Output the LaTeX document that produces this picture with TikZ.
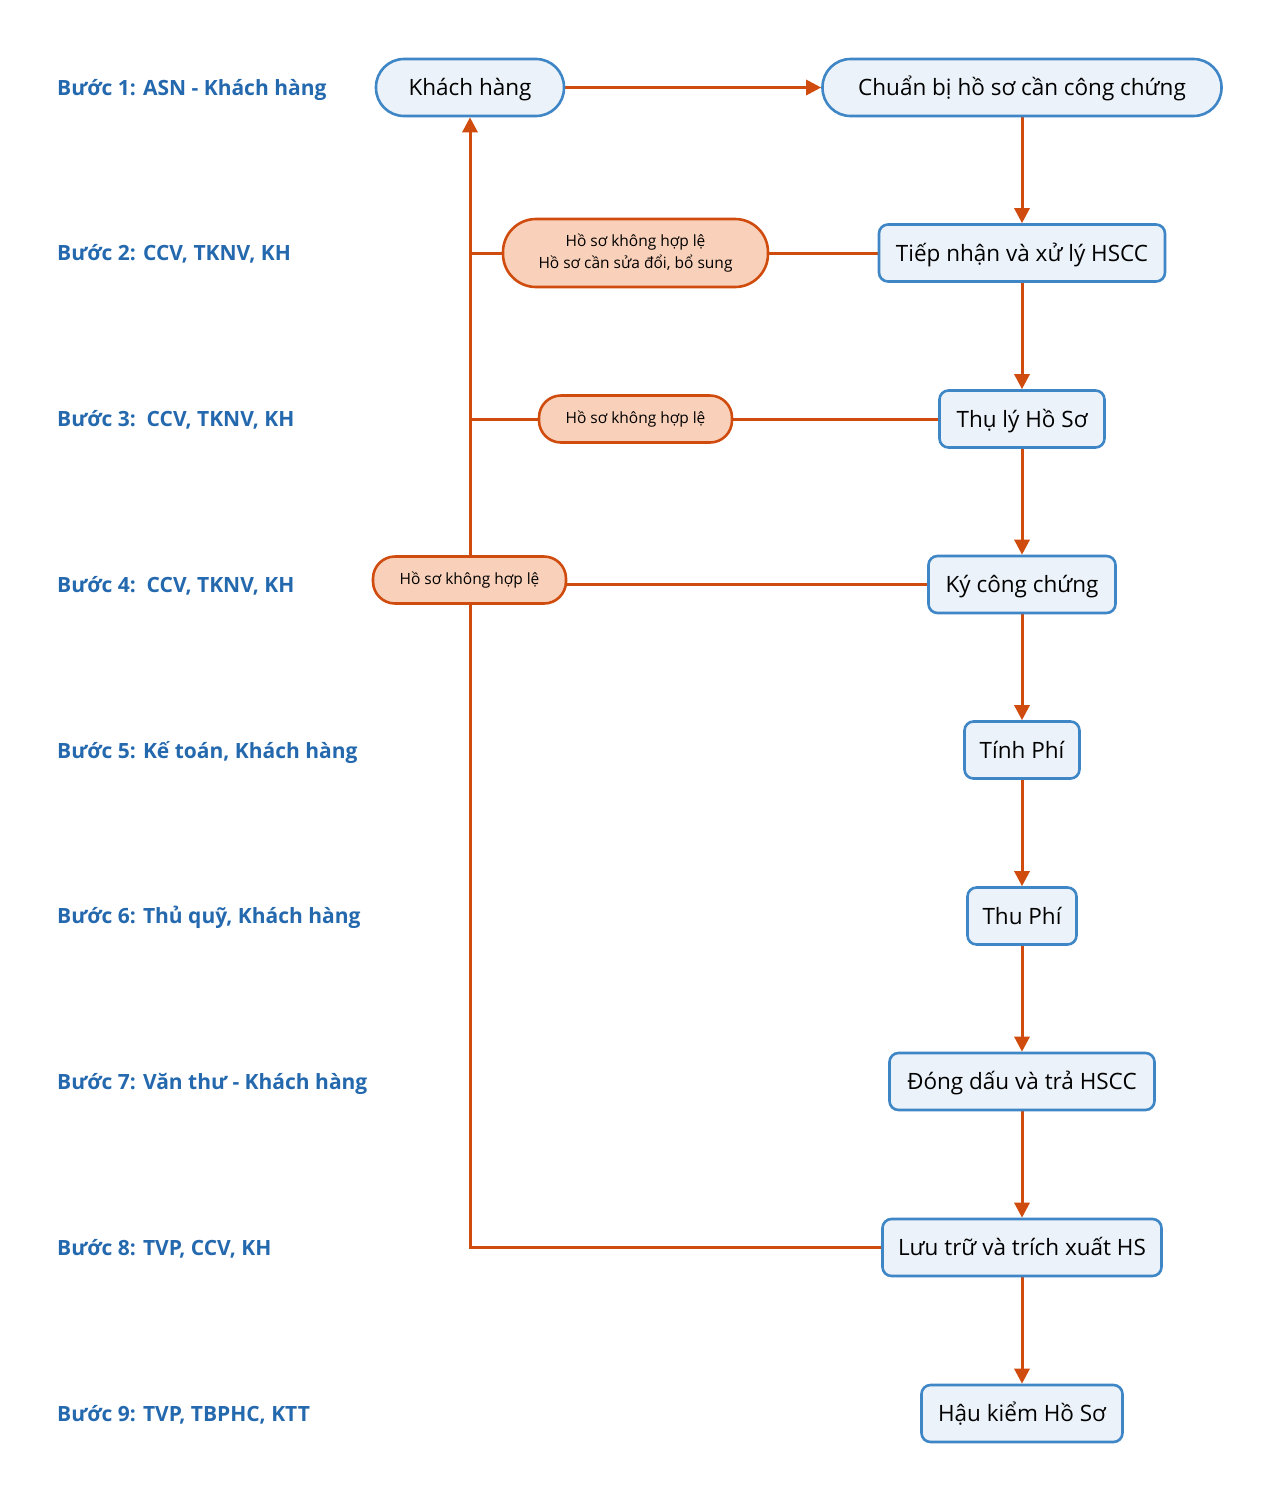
\documentclass[tikz,border=0pt]{standalone}
\usepackage{fontspec}
\setmainfont{Open Sans}
\usetikzlibrary{arrows.meta,backgrounds}
\definecolor{lblblue}{RGB}{36,104,174}
\definecolor{boxblue}{RGB}{62,134,198}
\definecolor{boxfill}{RGB}{235,242,249}
\definecolor{orline}{RGB}{208,76,14}
\definecolor{orfill}{RGB}{249,208,185}
\tikzset{
  procbox/.style={draw=boxblue, fill=boxfill, line width=2.6pt, rounded corners=9pt,
    minimum height=57pt, inner sep=0pt, text=black, font=\fontsize{22.5}{27}\selectfont,
    text height=16.5pt, text depth=0pt},
  pillbox/.style={procbox, rounded corners=28pt},
  orpill/.style={draw=orline, fill=orfill, line width=2.6pt, inner sep=0pt,
    text=black, font=\fontsize{15.5}{22}\selectfont, align=center},
  flow/.style={draw=orline, line width=3pt},
  arr/.style={flow, -{Triangle[length=15pt,width=15pt]}},
  steplbl/.style={anchor=west, inner sep=0pt, text=lblblue, font=\bfseries\fontsize{21}{24}\selectfont,
    text height=15pt, text depth=0pt}
}
\begin{document}
\begin{tikzpicture}[x=1pt,y=-1pt]
\useasboundingbox (0,0) rectangle (1281,1500);
% step labels
\node[steplbl] (s1) at (57,88) {Bước 1: ASN - Khách hàng};
\node[steplbl] (s2) at (57,253) {Bước 2: CCV, TKNV, KH};
\node[steplbl] (s3) at (57,419) {Bước 3:\ \ CCV, TKNV, KH};
\node[steplbl] (s4) at (57,585) {Bước 4:\ \ CCV, TKNV, KH};
\node[steplbl] (s5) at (57,751) {Bước 5: Kế toán, Khách hàng};
\node[steplbl] (s6) at (57,916) {Bước 6: Thủ quỹ, Khách hàng};
\node[steplbl] (s7) at (57,1082) {Bước 7: Văn thư - Khách hàng};
\node[steplbl] (s8) at (57,1248) {Bước 8: TVP, CCV, KH};
\node[steplbl] (s9) at (57,1414) {Bước 9: TVP, TBPHC, KTT};
% process nodes
\node[pillbox, minimum width=188pt] (kh) at (470,87.5) {Khách hàng};
\node[pillbox, minimum width=399pt] (cb) at (1022,87.5) {Chuẩn bị hồ sơ cần công chứng};
\node[procbox, minimum width=286pt] (tn) at (1022,253) {Tiếp nhận và xử lý HSCC};
\node[procbox, minimum width=165pt] (tl) at (1022,419) {Thụ lý Hồ Sơ};
\node[procbox, minimum width=187pt] (kc) at (1022,584.5) {Ký công chứng};
\node[procbox, minimum width=115pt] (tp) at (1022,750) {Tính Phí};
\node[procbox, minimum width=109pt] (thp) at (1022,916) {Thu Phí};
\node[procbox, minimum width=265pt] (dd) at (1022,1081.5) {Đóng dấu và trả HSCC};
\node[procbox, minimum width=279pt] (lt) at (1022,1247.5) {Lưu trữ và trích xuất HS};
\node[procbox, minimum width=201pt] (hk) at (1022,1413.5) {Hậu kiểm Hồ Sơ};
% exception nodes
\node[orpill, minimum width=265pt, minimum height=68pt, rounded corners=33pt] (o1) at (635.5,253) {Hồ sơ không hợp lệ\\Hồ sơ cần sửa đổi, bổ sung};
\node[orpill, minimum width=193pt, minimum height=47pt, rounded corners=22pt] (o2) at (635.5,419) {Hồ sơ không hợp lệ};
\node[orpill, minimum width=193pt, minimum height=47pt, rounded corners=22pt] (o3) at (469.5,580) {Hồ sơ không hợp lệ};
% connectors
\begin{pgfonlayer}{background}
\draw[arr] (kh.east) -- (cb.west);
\draw[arr] (cb.south) -- (tn.north);
\draw[arr] (tn.south) -- (tl.north);
\draw[arr] (tl.south) -- (kc.north);
\draw[arr] (kc.south) -- (tp.north);
\draw[arr] (tp.south) -- (thp.north);
\draw[arr] (thp.south) -- (dd.north);
\draw[arr] (dd.south) -- (lt.north);
\draw[arr] (lt.south) -- (hk.north);
\draw[arr] (lt.west) -| (kh.south);
\draw[flow] (tn.west) -- (o1.east);
\draw[flow] (o1.west) -- (o1.west -| kh.south);
\draw[flow] (tl.west) -- (o2.east);
\draw[flow] (o2.west) -- (o2.west -| kh.south);
\draw[flow] (kc.west) -- (kc.west -| o3.east);
\end{pgfonlayer}
\end{tikzpicture}
\end{document}
